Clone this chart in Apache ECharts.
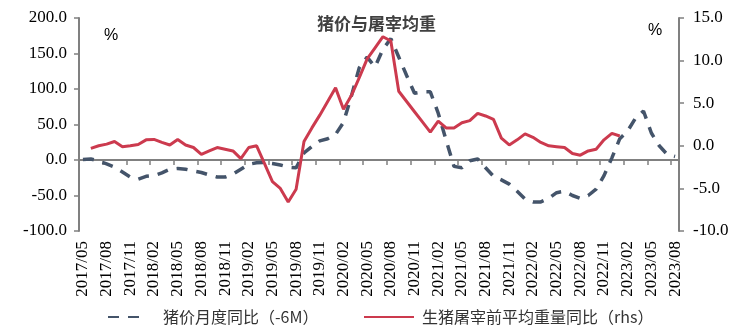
<!DOCTYPE html>
<html>
<head>
<meta charset="utf-8">
<script src="https://cdn.jsdelivr.net/npm/echarts@6/dist/echarts.min.js"></script>
<style>html,body{margin:0;padding:0;background:#fff;}#c{width:753px;height:325px;}</style>
</head>
<body>
<div id="c"></div>
<script>
var categories = [
 '2017/05','2017/06','2017/07','2017/08','2017/09','2017/10','2017/11','2017/12',
 '2018/01','2018/02','2018/03','2018/04','2018/05','2018/06','2018/07','2018/08','2018/09','2018/10','2018/11','2018/12',
 '2019/01','2019/02','2019/03','2019/04','2019/05','2019/06','2019/07','2019/08','2019/09','2019/10','2019/11','2019/12',
 '2020/01','2020/02','2020/03','2020/04','2020/05','2020/06','2020/07','2020/08','2020/09','2020/10','2020/11','2020/12',
 '2021/01','2021/02','2021/03','2021/04','2021/05','2021/06','2021/07','2021/08','2021/09','2021/10','2021/11','2021/12',
 '2022/01','2022/02','2022/03','2022/04','2022/05','2022/06','2022/07','2022/08','2022/09','2022/10','2022/11','2022/12',
 '2023/01','2023/02','2023/03','2023/04','2023/05','2023/06','2023/07','2023/08'
];
// 猪价月度同比（-6M）, left axis (%)
var pigPriceYoY = [
 0.7, 1.4, -1.5, -5.6, -10, -17, -24, -27,
 -23, -22, -18, -13, -12, -13, -15.5, -17.6, -21, -24, -24, -20,
 -13, -6, -4, -3.5, -5, -7, -10, -11, 10, 19, 27, 30,
 36, 53, 90, 130, 145, 131, 156, 171, 145, 119, 94, 96,
 96, 66, 28, -9, -11, -1, 1.5, -11, -23, -28, -34, -44,
 -55, -59, -59, -54, -46, -44, -50, -54, -50, -41, -22, 3,
 30, 41, 59, 69, 38, 20, 8, 5
];
// 生猪屠宰前平均重量同比（rhs）, right axis (%)
var weightYoY = [
 null, -0.3, 0.0, 0.2, 0.5, -0.1, 0.0, 0.15,
 0.7, 0.75, 0.4, 0.1, 0.75, 0.1, -0.2, -1.0, -0.6, -0.2, -0.4, -0.6,
 -1.5, -0.2, 0.0, -2.1, -4.2, -5.0, -6.6, -5.1, 0.5, 2.1, 3.6, 5.2,
 6.8, 4.3, 5.9, 8.0, 10.2, 11.5, 12.8, 12.3, 6.4, 5.2, 4.0, 2.8,
 1.6, 2.9, 2.1, 2.1, 2.7, 2.95, 3.8, 3.5, 3.1, 0.9, 0.1, 0.7,
 1.4, 1.0, 0.4, 0.0, -0.1, -0.2, -0.9, -1.1, -0.6, -0.4, 0.7, 1.45,
 1.15, null, null, null, null, null, null, null
];
var seriesNames = ['猪价月度同比（-6M）', '生猪屠宰前平均重量同比（rhs）'];
var titleText = '猪价与屠宰均重';

var serif = '"Liberation Serif", "Times New Roman", serif';
var cjk = '"Noto Sans CJK SC", sans-serif';
var axisGrey = '#808080';
var blue = '#44546A';
var red = '#CC3A4E';

var chart = echarts.init(document.getElementById('c'), null, {renderer: 'canvas'});
chart.setOption({
  animation: false,
  backgroundColor: '#ffffff',
  title: {
    text: titleText, left: 'center', top: 10,
    textStyle: {fontFamily: cjk, fontSize: 17, fontWeight: 'bold', color: '#404040'}
  },
  grid: {left: 79, right: 74, top: 18, bottom: 94, containLabel: false},
  legend: [
    {
      data: [seriesNames[0]], left: 102, top: 304, itemWidth: 36, itemHeight: 14,
      itemStyle: {opacity: 0},
      textStyle: {fontFamily: cjk, fontSize: 16, color: '#333', padding: [0, 0, 0, 14]}
    },
    {
      data: [seriesNames[1]], left: 358, top: 304, itemWidth: 50, itemHeight: 14,
      itemStyle: {opacity: 0},
      textStyle: {fontFamily: cjk, fontSize: 16, color: '#333', padding: [0, 0, 0, 3]}
    }
  ],
  xAxis: [
    {
      type: 'category', data: categories, boundaryGap: true, position: 'bottom',
      axisLine: {show: true, onZero: true, onZeroAxisIndex: 0, lineStyle: {color: axisGrey, width: 2}},
      axisTick: {show: true, interval: 2, length: 5, lineStyle: {color: axisGrey, width: 1.5}},
      axisLabel: {show: false},
      splitLine: {show: false}
    },
    {
      type: 'category', data: categories, boundaryGap: true, position: 'bottom',
      axisLine: {show: false, onZero: false},
      axisTick: {show: false},
      axisLabel: {show: true, interval: 2, rotate: 90, margin: 10, fontFamily: serif, fontSize: 17, color: '#000'},
      splitLine: {show: false}
    }
  ],
  yAxis: [
    {
      type: 'value', min: -100, max: 200, interval: 50, position: 'left',
      axisLine: {show: true, lineStyle: {color: axisGrey, width: 2}},
      axisTick: {show: true, length: 5, lineStyle: {color: axisGrey, width: 1.5}},
      axisLabel: {margin: 12, fontFamily: serif, fontSize: 17, color: '#000', formatter: function (v) { return v.toFixed(1); }},
      splitLine: {show: false}
    },
    {
      type: 'value', min: -10, max: 15, interval: 5, position: 'right',
      axisLine: {show: true, lineStyle: {color: axisGrey, width: 2}},
      axisTick: {show: true, length: 5, lineStyle: {color: axisGrey, width: 1.5}},
      axisLabel: {margin: 14, fontFamily: serif, fontSize: 17, color: '#000', formatter: function (v) { return v.toFixed(1); }},
      splitLine: {show: false}
    }
  ],
  graphic: [
    {type: 'text', left: 104, top: 28, style: {text: '%', fontFamily: '"Liberation Sans", Arial, sans-serif', fontSize: 16, fill: '#000'}},
    {type: 'text', left: 648, top: 23, style: {text: '%', fontFamily: '"Liberation Sans", Arial, sans-serif', fontSize: 16, fill: '#000'}}
  ],
  series: [
    {
      name: seriesNames[0], type: 'line', xAxisIndex: 0, yAxisIndex: 0, data: pigPriceYoY,
      symbol: 'none', smooth: false,
      lineStyle: {color: blue, width: 3.5, type: [11, 9], cap: 'butt'},
      itemStyle: {color: blue}
    },
    {
      name: seriesNames[1], type: 'line', xAxisIndex: 0, yAxisIndex: 1, data: weightYoY,
      symbol: 'none', smooth: false, connectNulls: false,
      lineStyle: {color: red, width: 3},
      itemStyle: {color: red}
    }
  ]
});
</script>
</body>
</html>
